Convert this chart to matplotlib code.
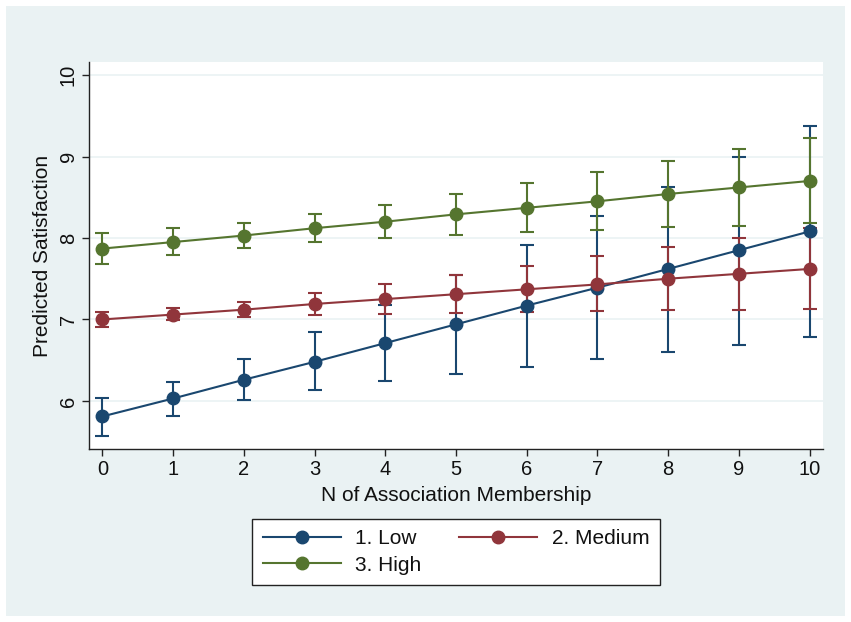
import matplotlib
matplotlib.use("Agg")
import matplotlib.pyplot as plt
from matplotlib.patches import Rectangle

x = list(range(11))
series_names = ["1. Low", "2. Medium", "3. High"]
low = [5.81, 6.03, 6.26, 6.48, 6.71, 6.94, 7.17, 7.39, 7.62, 7.85, 8.08]
low_hi = [6.03, 6.23, 6.51, 6.84, 7.18, 7.55, 7.91, 8.27, 8.63, 9.00, 9.37]
low_lo = [5.57, 5.82, 6.01, 6.13, 6.24, 6.33, 6.42, 6.51, 6.60, 6.69, 6.78]
med = [7.00, 7.06, 7.12, 7.19, 7.25, 7.31, 7.37, 7.43, 7.50, 7.56, 7.62]
med_hi = [7.09, 7.14, 7.22, 7.32, 7.43, 7.55, 7.66, 7.78, 7.89, 8.00, 8.12]
med_lo = [6.91, 6.99, 7.03, 7.05, 7.07, 7.08, 7.09, 7.10, 7.11, 7.12, 7.13]
high = [7.87, 7.95, 8.03, 8.12, 8.20, 8.29, 8.37, 8.45, 8.54, 8.62, 8.70]
high_hi = [8.06, 8.12, 8.19, 8.29, 8.41, 8.54, 8.67, 8.81, 8.95, 9.09, 9.23]
high_lo = [7.68, 7.79, 7.88, 7.95, 8.00, 8.04, 8.07, 8.10, 8.13, 8.15, 8.18]
yticks = [6, 7, 8, 9, 10]
xlabel = "N of Association Membership"
ylabel = "Predicted Satisfaction"

colors = ["#1a476f", "#90353b", "#55752f"]
bg = "#eaf2f3"
ink = "#111111"

plt.rcParams['font.family'] = ['Liberation Sans', 'DejaVu Sans']

fig = plt.figure(figsize=(8.51, 6.22), dpi=100)
fig.patch.set_facecolor("white")
fig.patches.append(Rectangle((6/851, 1-616/622), (845-6)/851, (616-6)/622,
                             transform=fig.transFigure, facecolor=bg,
                             edgecolor="none", zorder=-10))

ax = fig.add_axes([89/851, 1-449/622, (823-89)/851, (449-62)/622])
ax.set_facecolor("white")

data = [(low, low_lo, low_hi), (med, med_lo, med_hi), (high, high_lo, high_hi)]
handles = []
for (m, lo, hi), c in zip(data, colors):
    ax.errorbar(x, m, yerr=[[mi - l for mi, l in zip(m, lo)],
                            [h - mi for mi, h in zip(m, hi)]],
                fmt="none", ecolor=c, elinewidth=1.5, capsize=5, capthick=1.5,
                zorder=2)
for (m, lo, hi), c, name in zip(data, colors, series_names):
    h, = ax.plot(x, m, color=c, lw=1.5, marker="o", markersize=9,
                 markeredgecolor=c, markerfacecolor=c, zorder=3, label=name)
    handles.append(h)

ax.set_xlim(-0.19, 10.19)
ax.set_ylim(5.41, 10.16)
ax.set_xticks(x)
ax.set_yticks(yticks)
ax.set_yticklabels([str(t) for t in yticks], rotation=90, va="center")
ax.grid(axis="y", color=bg, lw=1.2)
ax.set_axisbelow(True)
for s in ["top", "right"]:
    ax.spines[s].set_visible(False)
for s in ["left", "bottom"]:
    ax.spines[s].set_color("#222222")
    ax.spines[s].set_linewidth(1.0)
ax.tick_params(axis="both", direction="out", length=5, width=1.0,
               color="#222222", labelcolor=ink, labelsize=14.5, pad=3)
ax.set_xlabel(xlabel, fontsize=15, labelpad=5, color=ink)
ax.set_ylabel(ylabel, fontsize=15, labelpad=5, color=ink)

# column-major fill: Low, High in column 1; Medium in column 2
order = [0, 2, 1]
leg = fig.legend(handles=[handles[i] for i in order], ncol=2, loc="center",
                 bbox_to_anchor=(456/851, 1-552/622), fontsize=15,
                 frameon=True, fancybox=False, edgecolor="#222222",
                 facecolor="white", handlelength=3.75, columnspacing=1.8,
                 borderpad=0.5, labelspacing=0.35, handletextpad=0.7,
                 borderaxespad=0)
for t in leg.get_texts():
    t.set_color(ink)
leg.get_frame().set_linewidth(1.0)
leg.get_frame().set_alpha(1)

fig.savefig("out.png", dpi=100, facecolor=fig.get_facecolor())
